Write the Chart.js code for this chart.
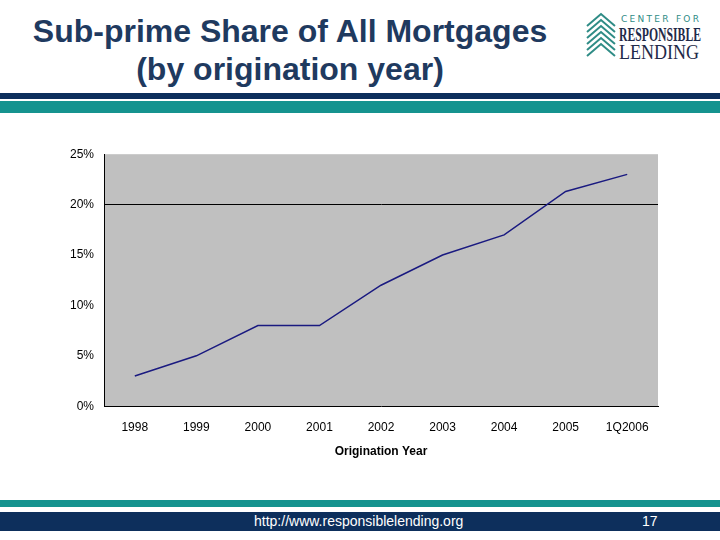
<!DOCTYPE html>
<html><head><meta charset="utf-8">
<script src="https://cdn.jsdelivr.net/npm/chart.js@4"></script>
<style>
body{margin:0;width:720px;height:540px;position:relative;background:#fff;font-family:"Liberation Sans",Arial,sans-serif;overflow:hidden}
#title{position:absolute;left:0;top:12px;width:580px;text-align:center;color:#1f3a5f;font-weight:bold;font-size:32px;line-height:38px}
.bar{position:absolute;left:0;width:720px}
#logo{position:absolute;left:585px;top:12px}
#footer{position:absolute;left:0;top:512px;width:720px;height:19px;background:#0d2f5c;color:#fff;font-size:14px}
#wrap{position:absolute;left:60px;top:137px;width:610px;height:326px}
</style></head><body>
<div id="title">Sub-prime Share of All Mortgages<br>(by origination year)</div>
<div id="logo">
<svg width="120" height="50">
<g fill="none" stroke="#2f8c86" stroke-width="2">
<path d="M2 14 L16 2 L30 14"/><path d="M2 20 L16 8 L30 20"/><path d="M2 26 L16 14 L30 26"/><path d="M2 32 L16 20 L30 32"/><path d="M2 38 L16 26 L30 38"/><path d="M2 44 L16 32 L30 44"/>
</g>
<text x="36" y="10" font-size="9" fill="#2f8c86" font-family="DejaVu Sans" textLength="78" lengthAdjust="spacing">CENTER FOR</text>
<text x="34" y="29" font-size="19" fill="#1f2a4a" font-family="Liberation Serif" font-weight="bold" textLength="82" lengthAdjust="spacingAndGlyphs">RESPONSIBLE</text>
<text x="34" y="47" font-size="20" fill="#1f2a4a" font-family="Liberation Serif" textLength="80" lengthAdjust="spacingAndGlyphs">LENDING</text>
</svg></div>
<div class="bar" style="top:93px;height:6px;background:#0d2f5c"></div>
<div class="bar" style="top:101px;height:12px;background:#15938f"></div>
<div class="bar" style="top:500px;height:7px;background:#15938f"></div>
<div id="footer"><span style="position:absolute;left:254px;top:1px">http://www.responsiblelending.org</span><span style="position:absolute;left:642px;top:1px">17</span></div>
<div id="wrap"><canvas id="c"></canvas></div>
<script>
const years = ['1998','1999','2000','2001','2002','2003','2004','2005','1Q2006'];
const subprimeShare = [3, 5, 8, 8, 12, 15, 17, 21.3, 23];
const yTicks = [0, 5, 10, 15, 20, 25];

const plotBg = {
  id: 'plotBg',
  beforeDraw(chart) {
    const {ctx, chartArea: a} = chart;
    ctx.save();
    ctx.fillStyle = '#c0c0c0';
    ctx.fillRect(a.left, a.top, a.right - a.left, a.bottom - a.top);
    ctx.restore();
  }
};

new Chart(document.getElementById('c'), {
  type: 'line',
  data: {
    labels: years,
    datasets: [{
      data: subprimeShare,
      borderColor: '#1a1a80',
      borderWidth: 1.5,
      pointRadius: 0,
      tension: 0,
      fill: false
    }]
  },
  options: {
    responsive: true,
    maintainAspectRatio: false,
    animation: false,
    layout: {padding: {top: 10, right: 12}},
    plugins: {legend: {display: false}, tooltip: {enabled: false}},
    scales: {
      x: {
        offset: true,
        grid: {display: false, drawTicks: false},
        border: {color: '#000'},
        ticks: {color: '#000', font: {size: 12, family: 'Liberation Sans'}, padding: 14},
        title: {display: true, text: 'Origination Year', color: '#000', font: {size: 12, weight: 'bold', family: 'Liberation Sans'}, padding: {top: -4}}
      },
      y: {
        min: 0, max: 25,
        afterBuildTicks(axis) { axis.ticks = yTicks.map(v => ({value: v})); },
        grid: {
          color: ctx => ctx.tick && ctx.tick.value === 20 ? '#000' : 'rgba(0,0,0,0)',
          drawTicks: false
        },
        border: {color: '#000'},
        ticks: {color: '#000', font: {size: 12, family: 'Liberation Sans'}, padding: 10, callback: v => v + '%'}
      }
    }
  },
  plugins: [plotBg]
});
</script>
</body></html>
